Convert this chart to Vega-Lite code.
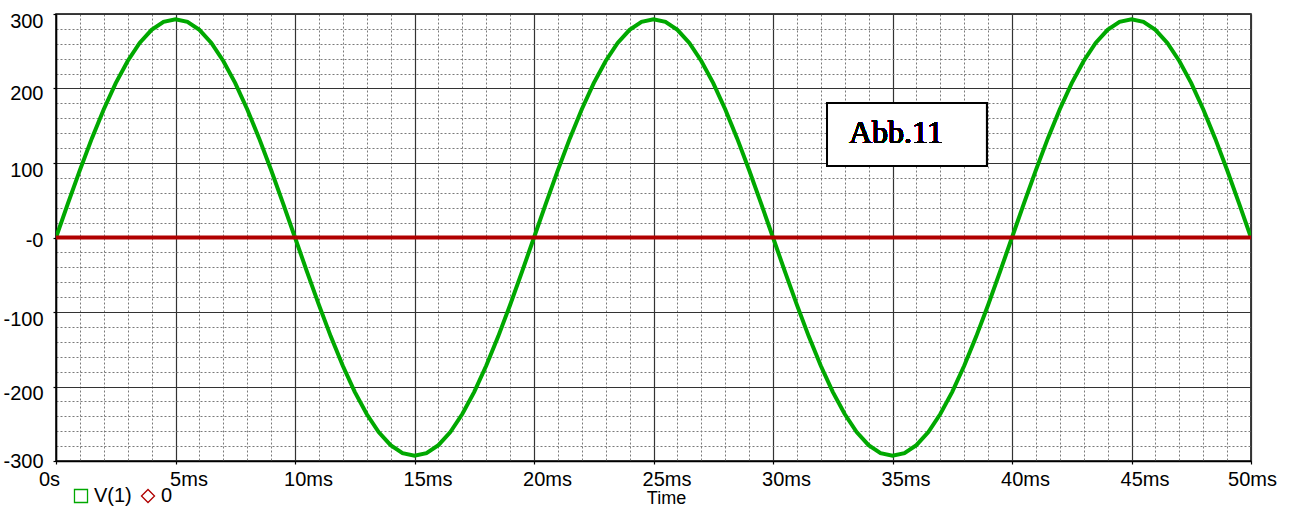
{
  "$schema": "https://vega.github.io/schema/vega-lite/v6.json",
  "width": 1195,
  "height": 447,
  "autosize": {"type": "none"},
  "padding": {"left": 56, "top": 14, "right": 39, "bottom": 45},
  "background": "white",
  "config": {
    "view": {"stroke": "black", "strokeWidth": 1.5},
    "font": "Liberation Sans"
  },
  "datasets": {
    "traces": [
      {"t": 0, "v": 0, "s": "V(1)"}, {"t": 0.5, "v": 45.8, "s": "V(1)"}, {"t": 1, "v": 90.5, "s": "V(1)"}, {"t": 1.5, "v": 133, "s": "V(1)"}, {"t": 2, "v": 172.2, "s": "V(1)"}, {"t": 2.5, "v": 207.2, "s": "V(1)"}, {"t": 3, "v": 237, "s": "V(1)"}, {"t": 3.5, "v": 261.1, "s": "V(1)"}, {"t": 4, "v": 278.7, "s": "V(1)"}, {"t": 4.5, "v": 289.4, "s": "V(1)"},
      {"t": 5, "v": 293, "s": "V(1)"}, {"t": 5.5, "v": 289.4, "s": "V(1)"}, {"t": 6, "v": 278.7, "s": "V(1)"}, {"t": 6.5, "v": 261.1, "s": "V(1)"}, {"t": 7, "v": 237, "s": "V(1)"}, {"t": 7.5, "v": 207.2, "s": "V(1)"}, {"t": 8, "v": 172.2, "s": "V(1)"}, {"t": 8.5, "v": 133, "s": "V(1)"}, {"t": 9, "v": 90.5, "s": "V(1)"}, {"t": 9.5, "v": 45.8, "s": "V(1)"},
      {"t": 10, "v": 0, "s": "V(1)"}, {"t": 10.5, "v": -45.8, "s": "V(1)"}, {"t": 11, "v": -90.5, "s": "V(1)"}, {"t": 11.5, "v": -133, "s": "V(1)"}, {"t": 12, "v": -172.2, "s": "V(1)"}, {"t": 12.5, "v": -207.2, "s": "V(1)"}, {"t": 13, "v": -237, "s": "V(1)"}, {"t": 13.5, "v": -261.1, "s": "V(1)"}, {"t": 14, "v": -278.7, "s": "V(1)"}, {"t": 14.5, "v": -289.4, "s": "V(1)"},
      {"t": 15, "v": -293, "s": "V(1)"}, {"t": 15.5, "v": -289.4, "s": "V(1)"}, {"t": 16, "v": -278.7, "s": "V(1)"}, {"t": 16.5, "v": -261.1, "s": "V(1)"}, {"t": 17, "v": -237, "s": "V(1)"}, {"t": 17.5, "v": -207.2, "s": "V(1)"}, {"t": 18, "v": -172.2, "s": "V(1)"}, {"t": 18.5, "v": -133, "s": "V(1)"}, {"t": 19, "v": -90.5, "s": "V(1)"}, {"t": 19.5, "v": -45.8, "s": "V(1)"},
      {"t": 20, "v": 0, "s": "V(1)"}, {"t": 20.5, "v": 45.8, "s": "V(1)"}, {"t": 21, "v": 90.5, "s": "V(1)"}, {"t": 21.5, "v": 133, "s": "V(1)"}, {"t": 22, "v": 172.2, "s": "V(1)"}, {"t": 22.5, "v": 207.2, "s": "V(1)"}, {"t": 23, "v": 237, "s": "V(1)"}, {"t": 23.5, "v": 261.1, "s": "V(1)"}, {"t": 24, "v": 278.7, "s": "V(1)"}, {"t": 24.5, "v": 289.4, "s": "V(1)"},
      {"t": 25, "v": 293, "s": "V(1)"}, {"t": 25.5, "v": 289.4, "s": "V(1)"}, {"t": 26, "v": 278.7, "s": "V(1)"}, {"t": 26.5, "v": 261.1, "s": "V(1)"}, {"t": 27, "v": 237, "s": "V(1)"}, {"t": 27.5, "v": 207.2, "s": "V(1)"}, {"t": 28, "v": 172.2, "s": "V(1)"}, {"t": 28.5, "v": 133, "s": "V(1)"}, {"t": 29, "v": 90.5, "s": "V(1)"}, {"t": 29.5, "v": 45.8, "s": "V(1)"},
      {"t": 30, "v": 0, "s": "V(1)"}, {"t": 30.5, "v": -45.8, "s": "V(1)"}, {"t": 31, "v": -90.5, "s": "V(1)"}, {"t": 31.5, "v": -133, "s": "V(1)"}, {"t": 32, "v": -172.2, "s": "V(1)"}, {"t": 32.5, "v": -207.2, "s": "V(1)"}, {"t": 33, "v": -237, "s": "V(1)"}, {"t": 33.5, "v": -261.1, "s": "V(1)"}, {"t": 34, "v": -278.7, "s": "V(1)"}, {"t": 34.5, "v": -289.4, "s": "V(1)"},
      {"t": 35, "v": -293, "s": "V(1)"}, {"t": 35.5, "v": -289.4, "s": "V(1)"}, {"t": 36, "v": -278.7, "s": "V(1)"}, {"t": 36.5, "v": -261.1, "s": "V(1)"}, {"t": 37, "v": -237, "s": "V(1)"}, {"t": 37.5, "v": -207.2, "s": "V(1)"}, {"t": 38, "v": -172.2, "s": "V(1)"}, {"t": 38.5, "v": -133, "s": "V(1)"}, {"t": 39, "v": -90.5, "s": "V(1)"}, {"t": 39.5, "v": -45.8, "s": "V(1)"},
      {"t": 40, "v": 0, "s": "V(1)"}, {"t": 40.5, "v": 45.8, "s": "V(1)"}, {"t": 41, "v": 90.5, "s": "V(1)"}, {"t": 41.5, "v": 133, "s": "V(1)"}, {"t": 42, "v": 172.2, "s": "V(1)"}, {"t": 42.5, "v": 207.2, "s": "V(1)"}, {"t": 43, "v": 237, "s": "V(1)"}, {"t": 43.5, "v": 261.1, "s": "V(1)"}, {"t": 44, "v": 278.7, "s": "V(1)"}, {"t": 44.5, "v": 289.4, "s": "V(1)"},
      {"t": 45, "v": 293, "s": "V(1)"}, {"t": 45.5, "v": 289.4, "s": "V(1)"}, {"t": 46, "v": 278.7, "s": "V(1)"}, {"t": 46.5, "v": 261.1, "s": "V(1)"}, {"t": 47, "v": 237, "s": "V(1)"}, {"t": 47.5, "v": 207.2, "s": "V(1)"}, {"t": 48, "v": 172.2, "s": "V(1)"}, {"t": 48.5, "v": 133, "s": "V(1)"}, {"t": 49, "v": 90.5, "s": "V(1)"}, {"t": 49.5, "v": 45.8, "s": "V(1)"},
      {"t": 50, "v": 0, "s": "V(1)"},
      {"t": 0, "v": 0, "s": "0"}, {"t": 10, "v": 0, "s": "0"}, {"t": 20, "v": 0, "s": "0"}, {"t": 30, "v": 0, "s": "0"}, {"t": 40, "v": 0, "s": "0"}, {"t": 50, "v": 0, "s": "0"}
    ]
  },
  "data": {"name": "traces"},
  "resolve": {"axis": {"x": "independent", "y": "independent"}},
  "layer": [
    {
      "mark": {"type": "line", "opacity": 0},
      "encoding": {
        "x": {
          "field": "t", "type": "quantitative",
          "scale": {"domain": [0, 50], "nice": false, "zero": false},
          "axis": {
            "orient": "bottom", "title": null, "labels": false, "ticks": false, "domain": false,
            "values": [0,1,2,3,4,6,7,8,9,11,12,13,14,16,17,18,19,21,22,23,24,26,27,28,29,31,32,33,34,36,37,38,39,41,42,43,44,46,47,48,49,50],
            "grid": true, "gridColor": "#7a7a7a", "gridDash": [2, 2], "gridWidth": 1
          }
        },
        "y": {
          "field": "v", "type": "quantitative",
          "scale": {"domain": [-300, 300], "nice": false, "zero": false},
          "axis": {
            "orient": "left", "title": null, "labels": false, "ticks": false, "domain": false,
            "values": [-280,-260,-240,-220,-180,-160,-140,-120,-80,-60,-40,-20,20,40,60,80,120,140,160,180,220,240,260,280],
            "grid": true, "gridColor": "#7a7a7a", "gridDash": [2, 2], "gridWidth": 1
          }
        },
        "detail": {"field": "s"}
      }
    },
    {
      "mark": {"type": "line", "strokeWidth": 4, "clip": true},
      "encoding": {
        "x": {
          "field": "t", "type": "quantitative",
          "axis": {
            "orient": "bottom", "title": "Time", "titleFontSize": 18, "titleFontWeight": "normal", "titleColor": "black",
            "titlePadding": 0, "titleX": 610, "titleBaseline": "top",
            "values": [0,5,10,15,20,25,30,35,40,45,50],
            "labelExpr": "datum.value == 0 ? '0s' : datum.value + 'ms'",
            "labelFontSize": 20, "labelColor": "black", "labelPadding": 5, "labelFlush": false, "labelOverlap": false,
            "labelOffset": {"condition": [{"test": "datum.value == 0", "value": -7}, {"test": "datum.value == 50", "value": 1}], "value": 13},
            "tickSize": 3, "tickColor": "black", "tickWidth": 1.2,
            "domainColor": "black", "domainWidth": 1.5,
            "grid": true, "gridColor": "#333333", "gridWidth": 1.2
          }
        },
        "y": {
          "field": "v", "type": "quantitative",
          "axis": {
            "orient": "left", "title": null,
            "values": [-300,-200,-100,0,100,200,300],
            "labelExpr": "datum.value == 0 ? '-0' : '' + datum.value",
            "labelFontSize": 20, "labelColor": "black", "labelPadding": 10, "labelFlush": false, "labelOverlap": false,
            "labelBaseline": "top",
            "labelOffset": {"condition": [{"test": "datum.value == 0", "value": -7}, {"test": "datum.value == -300", "value": -10}, {"test": "datum.value == 200", "value": -5}], "value": -3},
            "tickSize": 3, "tickColor": "black", "tickWidth": 1.2,
            "domainColor": "black", "domainWidth": 1.5,
            "grid": true, "gridColor": "#333333", "gridWidth": 1.2
          }
        },
        "color": {
          "field": "s", "type": "nominal", "sort": ["V(1)", "0"],
          "scale": {"domain": ["V(1)", "0"], "range": ["#00a800", "#b00000"]},
          "legend": {
            "orient": "none", "legendX": 15, "legendY": 472, "direction": "horizontal", "title": null,
            "symbolType": "square", "symbolSize": 170, "symbolStrokeWidth": 1.3, "symbolFillColor": "transparent",
            "labelFontSize": 20, "labelColor": "black", "labelOffset": 3, "columnPadding": 6,
            "encode": {"symbols": {"update": {"shape": {"signal": "datum.value == '0' ? 'diamond' : 'square'"}, "fill": {"value": "transparent"}}}}
          }
        }
      }
    },
    {
      "mark": {"type": "rect", "fill": "white", "stroke": "black", "strokeWidth": 2},
      "encoding": {
        "x": {"datum": 32.26, "type": "quantitative", "axis": null},
        "x2": {"datum": 38.95},
        "y": {"datum": 180.5, "type": "quantitative", "axis": null},
        "y2": {"datum": 96}
      }
    },
    {
      "mark": {"type": "text", "text": "Abb.11", "font": "Liberation Serif", "fontSize": 32, "fontWeight": 400, "align": "left", "baseline": "alphabetic", "fill": "#000000", "strokeWidth": 0, "strokeOpacity": 0},
      "encoding": {
        "x": {"datum": 33.18, "type": "quantitative", "axis": null},
        "y": {"datum": 127.5, "type": "quantitative", "axis": null}
      }
    }
  ]
}
